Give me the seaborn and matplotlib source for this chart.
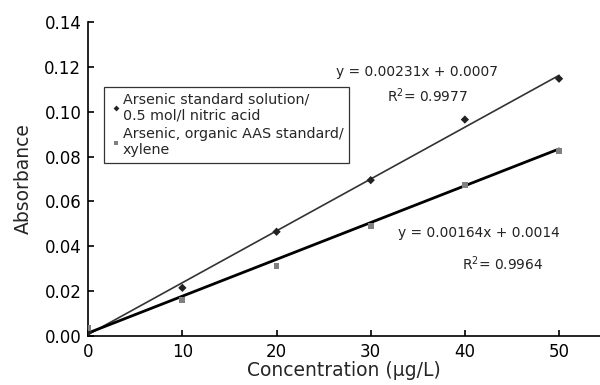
import numpy as np
import pandas as pd
import matplotlib.pyplot as plt
import seaborn as sns

# values
conc = [0, 10, 20, 30, 40, 50]
aqueous = [0.0018, 0.0215, 0.0465, 0.0695, 0.0965, 0.1147]
organic = [0.0035, 0.0162, 0.0312, 0.0492, 0.0674, 0.0826]
labels = ["Arsenic standard solution/\n0.5 mol/l nitric acid",
          "Arsenic, organic AAS standard/\nxylene"]
slopes = [0.00231, 0.00164]
intercepts = [0.0007, 0.0014]
eq_text = ["y = 0.00231x + 0.0007", "y = 0.00164x + 0.0014"]
r2_text = ["R$^{2}$= 0.9977", "R$^{2}$= 0.9964"]

df = pd.DataFrame({"Concentration": conc * 2,
                   "Absorbance": aqueous + organic,
                   "Series": [labels[0]] * 6 + [labels[1]] * 6})

sns.set_style("ticks")
plt.rcParams['font.family'] = ['DejaVu Sans']

fig = plt.figure(figsize=(6, 3.85), dpi=100)
ax = fig.add_axes([0.147, 0.127, 0.853, 0.816])

# trend lines
xs = np.array([0, 50])
ax.plot(xs, slopes[0] * xs + intercepts[0], color="#333333", lw=1.2, zorder=2)
ax.plot(xs, slopes[1] * xs + intercepts[1], color="black", lw=2.0, zorder=2)

sns.scatterplot(data=df, x="Concentration", y="Absorbance", hue="Series",
                style="Series", markers=["D", "s"],
                palette=["#222222", "#808080"], s=18, linewidth=0,
                ax=ax, zorder=3)

ax.set_xlim(0, 54.35)
ax.set_ylim(0, 0.14)
ax.set_xticks([0, 10, 20, 30, 40, 50])
ax.set_yticks(np.arange(0, 0.141, 0.02))
ax.yaxis.set_major_formatter(plt.FormatStrFormatter("%.2f"))
ax.tick_params(direction="in", length=4, width=1.2, labelsize=12, colors="black",
               pad=5)
for sp in ["top", "right"]:
    ax.spines[sp].set_visible(False)
for sp in ["left", "bottom"]:
    ax.spines[sp].set_linewidth(1.2)
    ax.spines[sp].set_color("black")

ax.set_xlabel("Concentration (\u00b5g/L)", fontsize=13.5, labelpad=0)
ax.set_ylabel("Absorbance", fontsize=13.5, labelpad=8)

leg = ax.legend(loc="upper left", bbox_to_anchor=(0.031, 0.793), fontsize=10.3,
                frameon=True, fancybox=False, edgecolor="black",
                borderaxespad=0, handletextpad=0.1, handlelength=0.8,
                borderpad=0.4, labelspacing=0.3, markerscale=0.7)
leg.get_frame().set_linewidth(0.9)

tc = "#222222"
ax.text(26.3, 0.1158, eq_text[0], fontsize=9.9, color=tc)
ax.text(31.7, 0.1044, r2_text[0], fontsize=9.9, color=tc)
ax.text(32.9, 0.0442, eq_text[1], fontsize=9.9, color=tc)
ax.text(39.7, 0.0294, r2_text[1], fontsize=9.9, color=tc)

fig.savefig("out.png", dpi=100, facecolor="white")
